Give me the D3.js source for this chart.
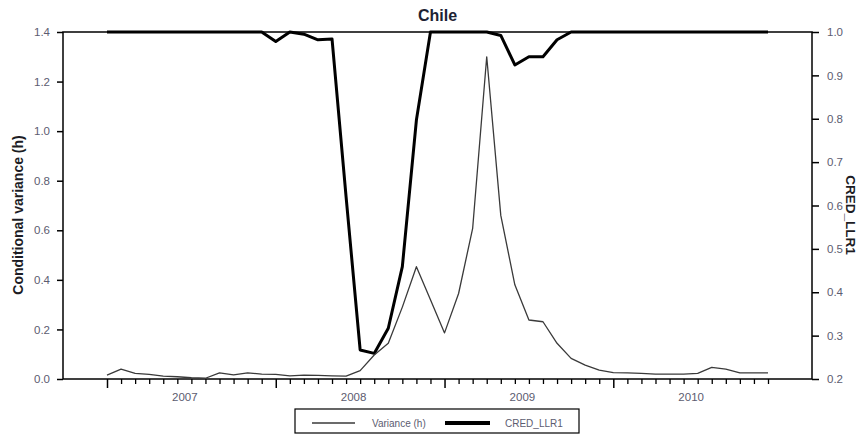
<!DOCTYPE html>
<html>
<head>
<meta charset="utf-8">
<script src="https://cdn.jsdelivr.net/npm/d3@7"></script>
<style>
  html, body { margin: 0; padding: 0; background: #fff; }
  svg { display: block; font-family: "Liberation Sans", Arial, sans-serif; }
</style>
</head>
<body>
<svg id="chart" width="860" height="436"></svg>
<script>
// ---- data (monthly, Jul 2006 - Jun 2010) ----
const months = [
  "2006-07","2006-08","2006-09","2006-10","2006-11","2006-12",
  "2007-01","2007-02","2007-03","2007-04","2007-05","2007-06",
  "2007-07","2007-08","2007-09","2007-10","2007-11","2007-12",
  "2008-01","2008-02","2008-03","2008-04","2008-05","2008-06",
  "2008-07","2008-08","2008-09","2008-10","2008-11","2008-12",
  "2009-01","2009-02","2009-03","2009-04","2009-05","2009-06",
  "2009-07","2009-08","2009-09","2009-10","2009-11","2009-12",
  "2010-01","2010-02","2010-03","2010-04","2010-05","2010-06"
];
const variance = [
  0.016, 0.040, 0.023, 0.019, 0.012, 0.009,
  0.005, 0.003, 0.025, 0.017, 0.025, 0.020,
  0.019, 0.013, 0.016, 0.015, 0.013, 0.012,
  0.034, 0.097, 0.144, 0.290, 0.453, 0.320,
  0.186, 0.345, 0.608, 1.300, 0.660, 0.380,
  0.238, 0.231, 0.144, 0.083, 0.056, 0.036,
  0.026, 0.025, 0.023, 0.020, 0.020, 0.020,
  0.023, 0.047, 0.040, 0.025, 0.025, 0.025
];
const credLLR1 = [
  1.000, 1.000, 1.000, 1.000, 1.000, 1.000,
  1.000, 1.000, 1.000, 1.000, 1.000, 1.000,
  0.978, 1.000, 0.995, 0.982, 0.984, 0.620,
  0.267, 0.259, 0.317, 0.459, 0.797, 1.000,
  1.000, 1.000, 1.000, 1.000, 0.992, 0.924,
  0.943, 0.943, 0.982, 1.000, 1.000, 1.000,
  1.000, 1.000, 1.000, 1.000, 1.000, 1.000,
  1.000, 1.000, 1.000, 1.000, 1.000, 1.000
];
const yearLabels = ["2007", "2008", "2009", "2010"];
const leftTicks = [0, 0.2, 0.4, 0.6, 0.8, 1.0, 1.2, 1.4];
const rightTicks = [0.2, 0.3, 0.4, 0.5, 0.6, 0.7, 0.8, 0.9, 1.0];
const seriesNames = ["Variance (h)", "CRED_LLR1"];
const titleText = "Chile";
const leftTitle = "Conditional variance (h)";
const rightTitle = "CRED_LLR1";

// ---- layout ----
const frame = { left: 63, right: 812, top: 32, bottom: 379 };
const firstX = 107, lastX = 768;
const svg = d3.select("#chart");
svg.append("rect").attr("width", 860).attr("height", 436).attr("fill", "#fff");

const x = d3.scaleLinear().domain([0, months.length - 1]).range([firstX, lastX]);
const yL = d3.scaleLinear().domain([0, 1.4]).range([frame.bottom, frame.top]);
const yR = d3.scaleLinear().domain([0.2, 1.0]).range([frame.bottom, frame.top]);

const tickColor = "#5c5c70";
const fontTick = "11.5px";

// left axis
const gL = svg.append("g").attr("transform", `translate(${frame.left},0)`)
  .call(d3.axisLeft(yL).tickValues(leftTicks).tickFormat(d3.format(".1f")).tickSize(6).tickSizeOuter(0).tickPadding(7));
gL.select(".domain").remove();
gL.selectAll("line").attr("stroke", "#000").attr("stroke-width", 1.5);
gL.selectAll("text").attr("fill", tickColor).style("font-size", fontTick).style("font-family", "Liberation Sans, Arial, sans-serif");

// right axis
const gR = svg.append("g").attr("transform", `translate(${frame.right},0)`)
  .call(d3.axisRight(yR).tickValues(rightTicks).tickFormat(d3.format(".1f")).tickSize(7).tickSizeOuter(0).tickPadding(8));
gR.select(".domain").remove();
gR.selectAll("line").attr("stroke", "#000").attr("stroke-width", 1.5);
gR.selectAll("text").attr("fill", tickColor).style("font-size", fontTick).style("font-family", "Liberation Sans, Arial, sans-serif");

// bottom axis: minor monthly ticks
const idx = d3.range(months.length);
const gMinor = svg.append("g").attr("transform", `translate(0,${frame.bottom})`)
  .call(d3.axisBottom(x).tickValues(idx.filter(i => months[i].slice(5) !== "07")).tickSize(5).tickFormat(""));
gMinor.select(".domain").remove();
gMinor.selectAll("line").attr("stroke", "#000").attr("stroke-width", 1.3);
// major ticks (July)
const gMajor = svg.append("g").attr("transform", `translate(0,${frame.bottom})`)
  .call(d3.axisBottom(x).tickValues(idx.filter(i => months[i].slice(5) === "07")).tickSize(9).tickFormat(""));
gMajor.select(".domain").remove();
gMajor.selectAll("line").attr("stroke", "#000").attr("stroke-width", 1.5);
// year labels
const labelPos = yearLabels.map(y => months.indexOf(y + "-01") - 0.5);
const gLab = svg.append("g").attr("transform", `translate(0,${frame.bottom})`)
  .call(d3.axisBottom(x).tickValues(labelPos).tickSize(0).tickPadding(14)
    .tickFormat((d, i) => yearLabels[i]));
gLab.select(".domain").remove();
gLab.selectAll("text").attr("fill", tickColor).style("font-size", fontTick).style("font-family", "Liberation Sans, Arial, sans-serif");

// frame
svg.append("rect")
  .attr("x", frame.left).attr("y", frame.top)
  .attr("width", frame.right - frame.left).attr("height", frame.bottom - frame.top)
  .attr("fill", "none").attr("stroke", "#000").attr("stroke-width", 1.5);

// lines
const lineV = d3.line().x((d, i) => x(i)).y(d => yL(d));
const lineC = d3.line().x((d, i) => x(i)).y(d => yR(d));
svg.append("path").datum(credLLR1).attr("d", lineC)
  .attr("fill", "none").attr("stroke", "#000").attr("stroke-width", 3).attr("stroke-linejoin", "round");
svg.append("path").datum(variance).attr("d", lineV)
  .attr("fill", "none").attr("stroke", "#3a3a3a").attr("stroke-width", 1.3).attr("stroke-linejoin", "round");

// titles
svg.append("text").attr("x", (frame.left + frame.right) / 2).attr("y", 21)
  .attr("text-anchor", "middle").style("font-size", "16px").style("font-weight", "bold")
  .attr("fill", "#1c2233").text(titleText);
svg.append("text").attr("transform", `translate(23,215) rotate(-90)`)
  .attr("text-anchor", "middle").style("font-size", "14px").style("font-weight", "bold")
  .attr("fill", "#1c1c24").text(leftTitle);
svg.append("text").attr("transform", `translate(846,215) rotate(90)`)
  .attr("text-anchor", "middle").style("font-size", "13.5px").style("font-weight", "bold")
  .attr("fill", "#1c1c24").text(rightTitle);

// legend
const lg = svg.append("g");
lg.append("rect").attr("x", 295).attr("y", 409).attr("width", 284).attr("height", 24)
  .attr("fill", "#fff").attr("stroke", "#000").attr("stroke-width", 1.2);
const legY = 423;
lg.append("line").attr("x1", 312).attr("x2", 355).attr("y1", legY).attr("y2", legY)
  .attr("stroke", "#3a3a3a").attr("stroke-width", 1.3);
lg.append("text").attr("x", 372).attr("y", legY + 3.5).style("font-size", "10px")
  .attr("fill", tickColor).text(seriesNames[0]);
lg.append("line").attr("x1", 445).attr("x2", 490).attr("y1", legY).attr("y2", legY)
  .attr("stroke", "#000").attr("stroke-width", 4);
lg.append("text").attr("x", 505).attr("y", legY + 3.5).style("font-size", "10px")
  .attr("fill", tickColor).text(seriesNames[1]);
</script>
</body>
</html>
